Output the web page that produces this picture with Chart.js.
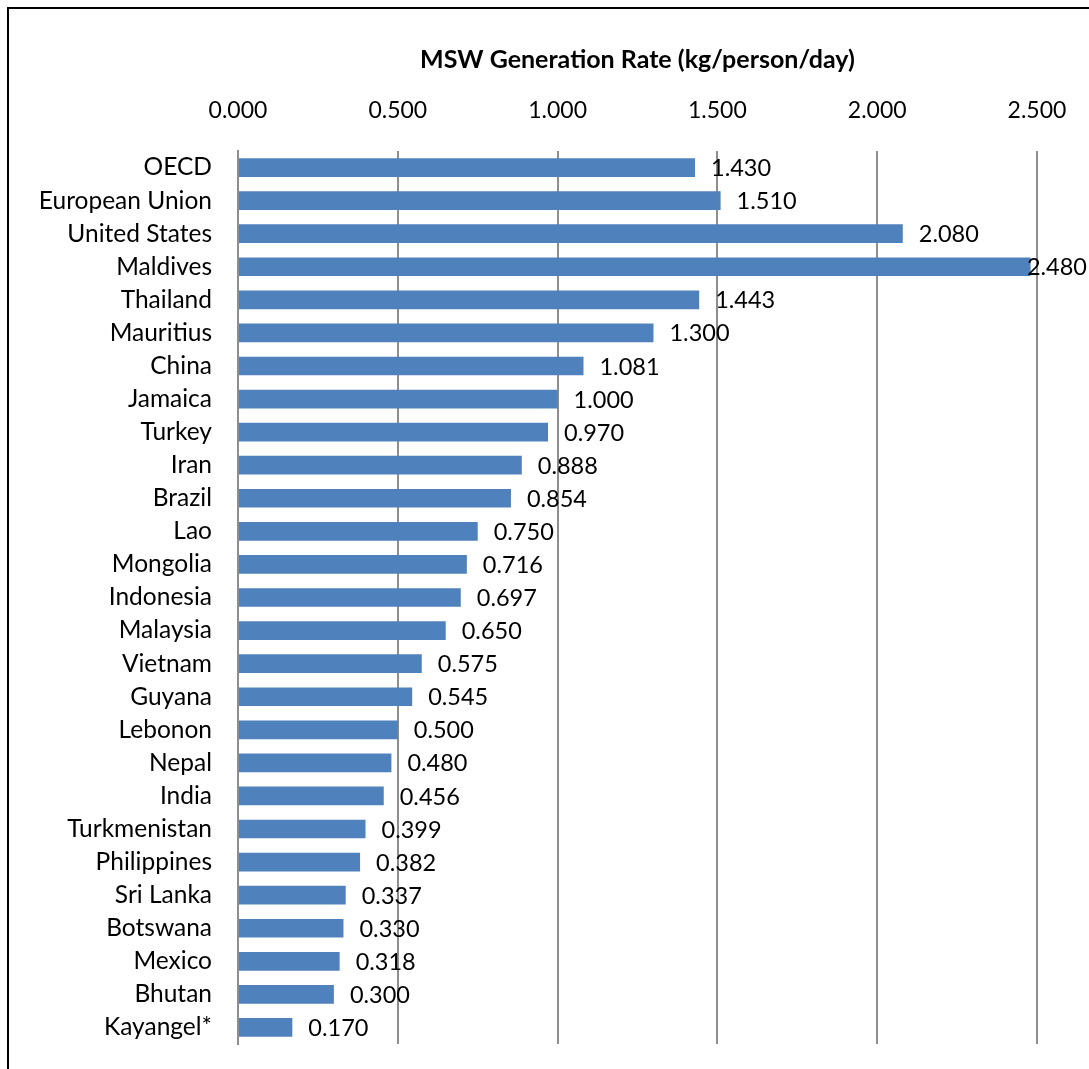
<!DOCTYPE html>
<html>
<head>
<meta charset="utf-8">
<script src="https://cdn.jsdelivr.net/npm/chart.js@4.4.1/dist/chart.umd.min.js"></script>
<style>
  html, body { margin: 0; padding: 0; background: #fff; overflow: hidden; }
  #wrap { position: relative; width: 1089px; height: 1069px; overflow: hidden; }
  #grafico { display: block; }
  #frame { position: absolute; left: 7px; top: 7px; right: -10px; bottom: -10px;
           border-left: 2px solid #000; border-top: 2px solid #000; pointer-events: none; }
</style>
</head>
<body>
<div id="wrap">
  <canvas id="grafico" width="1089" height="1069"></canvas>
  <div id="frame"></div>
</div>
<script>
const paises = ["OECD", "European Union", "United States", "Maldives", "Thailand", "Mauritius", "China",
  "Jamaica", "Turkey", "Iran", "Brazil", "Lao", "Mongolia", "Indonesia", "Malaysia", "Vietnam", "Guyana",
  "Lebonon", "Nepal", "India", "Turkmenistan", "Philippines", "Sri Lanka", "Botswana", "Mexico", "Bhutan",
  "Kayangel*"];
const tasas = [1.430, 1.510, 2.080, 2.480, 1.443, 1.300, 1.081, 1.000, 0.970, 0.888, 0.854, 0.750, 0.716,
  0.697, 0.650, 0.575, 0.545, 0.500, 0.480, 0.456, 0.399, 0.382, 0.337, 0.330, 0.318, 0.300, 0.170];
const tituloEje = "MSW Generation Rate (kg/person/day)";
const ejeMin = 0, ejeMax = 2.5, paso = 0.5;

const FUENTE = "Lato, 'Noto Sans', sans-serif";
const AZUL = "#4f81bd";
const GRIS = "#8e8e8e";

// etiquetas de valor al final de cada barra
const etiquetas = {
  id: "etiquetas",
  afterDatasetsDraw(chart) {
    const ctx = chart.ctx;
    const meta = chart.getDatasetMeta(0);
    ctx.save();
    ctx.font = "23.5px " + FUENTE;
    ctx.fillStyle = "#000";
    ctx.textAlign = "left";
    ctx.textBaseline = "middle";
    meta.data.forEach((bar, i) => {
      const txt = tasas[i].toFixed(3);
      const w = ctx.measureText(txt).width;
      let x = bar.x + 16;
      if (x + w > chart.width - 2) x = chart.width - 2 - w;
      ctx.fillText(txt, x, bar.y + 1);
    });
    ctx.restore();
  }
};

new Chart(document.getElementById("grafico"), {
  type: "bar",
  data: {
    labels: paises,
    datasets: [{ data: tasas, backgroundColor: AZUL, borderWidth: 0, barPercentage: 0.565, categoryPercentage: 1 }]
  },
  options: {
    indexAxis: "y",
    responsive: false,
    animation: false,
    layout: { padding: { top: 0, left: 0, right: 52, bottom: 25 } },
    plugins: { legend: { display: false }, tooltip: { enabled: false } },
    scales: {
      x: {
        position: "top",
        min: ejeMin,
        max: ejeMax,
        afterFit: (s) => { s.height = 151; s.paddingLeft = 0; s.paddingRight = 0; },
        border: { display: false },
        grid: { color: GRIS, lineWidth: 2, drawTicks: false },
        ticks: {
          stepSize: paso,
          padding: 27,
          color: "#000",
          font: { family: FUENTE, size: 23 },
          callback: (v) => Number(v).toFixed(3)
        },
        title: {
          display: true,
          text: tituloEje,
          color: "#000",
          padding: { top: 45, bottom: 0 },
          font: { family: FUENTE, size: 25, weight: "bold" }
        }
      },
      y: {
        afterFit: (s) => { s.width = 238; s.paddingTop = 0; s.paddingBottom = 0; },
        border: { display: true, color: GRIS, width: 2 },
        grid: { display: false, drawTicks: false },
        ticks: {
          padding: 26,
          color: "#000",
          autoSkip: false,
          font: { family: FUENTE, size: 24.5 }
        }
      }
    }
  },
  plugins: [etiquetas]
});
</script>
</body>
</html>
